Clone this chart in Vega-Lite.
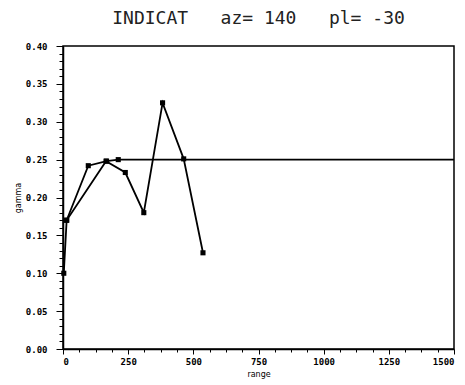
{
  "$schema": "https://vega.github.io/schema/vega-lite/v6.json",
  "autosize": "none",
  "padding": {"left": 63, "top": 46, "right": 11, "bottom": 36},
  "width": 391,
  "height": 303,
  "background": "white",
  "title": {
    "text": "INDICAT\u00a0\u00a0\u00a0az=\u00a0140\u00a0\u00a0\u00a0pl=\u00a0-30",
    "font": "DejaVu Sans Mono",
    "fontSize": 18,
    "fontWeight": "normal",
    "color": "#222222",
    "anchor": "middle",
    "offset": 14
  },
  "data": {
    "values": [
      {"series": "experimental", "range": 3, "gamma": 0.10},
      {"series": "experimental", "range": 14, "gamma": 0.17},
      {"series": "experimental", "range": 165, "gamma": 0.248},
      {"series": "experimental", "range": 239, "gamma": 0.233},
      {"series": "experimental", "range": 310, "gamma": 0.18},
      {"series": "experimental", "range": 382, "gamma": 0.325},
      {"series": "experimental", "range": 463, "gamma": 0.251},
      {"series": "experimental", "range": 537, "gamma": 0.127},
      {"series": "model", "range": 14, "gamma": 0.17},
      {"series": "model", "range": 97, "gamma": 0.242},
      {"series": "model", "range": 167, "gamma": 0.248},
      {"series": "model", "range": 212, "gamma": 0.25},
      {"series": "model", "range": 1500, "gamma": 0.25}
    ]
  },
  "encoding": {
    "x": {
      "field": "range",
      "type": "quantitative",
      "scale": {"domain": [0, 1500], "nice": false},
      "axis": {
        "title": "range",
        "values": [0, 62.5, 125, 187.5, 250, 312.5, 375, 437.5, 500, 562.5, 625, 687.5, 750, 812.5, 875, 937.5, 1000, 1062.5, 1125, 1187.5, 1250, 1312.5, 1375, 1437.5, 1500],
        "labelExpr": "datum.value % 250 === 0 ? format(datum.value, 'd') : ''",
        "tickSize": {"condition": {"test": "datum.value % 250 === 0", "value": 5}, "value": 3},
        "labelOverlap": false,
        "labelPadding": 3,
        "titlePadding": 4,
        "grid": false
      }
    },
    "y": {
      "field": "gamma",
      "type": "quantitative",
      "scale": {"domain": [0, 0.4], "nice": false},
      "axis": {
        "title": "gamma",
        "values": [0, 0.01, 0.02, 0.03, 0.04, 0.05, 0.06, 0.07, 0.08, 0.09, 0.10, 0.11, 0.12, 0.13, 0.14, 0.15, 0.16, 0.17, 0.18, 0.19, 0.20, 0.21, 0.22, 0.23, 0.24, 0.25, 0.26, 0.27, 0.28, 0.29, 0.30, 0.31, 0.32, 0.33, 0.34, 0.35, 0.36, 0.37, 0.38, 0.39, 0.40],
        "labelExpr": "abs(datum.value * 20 - round(datum.value * 20)) < 0.000001 ? format(datum.value, '.2f') : ''",
        "tickSize": {"condition": {"test": "abs(datum.value * 20 - round(datum.value * 20)) < 0.000001", "value": 7}, "value": 4},
        "labelOverlap": false,
        "labelPadding": 9,
        "titlePadding": 3,
        "grid": false
      }
    }
  },
  "layer": [
    {
      "mark": {"type": "line", "color": "black", "strokeWidth": 1.8},
      "encoding": {"detail": {"field": "series"}}
    },
    {
      "transform": [{"filter": "datum.range < 1500"}],
      "mark": {"type": "point", "shape": "square", "filled": true, "color": "black", "size": 26, "opacity": 1}
    }
  ],
  "config": {
    "view": {"stroke": "black", "strokeWidth": 1.5},
    "axis": {
      "domainColor": "black",
      "domainWidth": 1.5,
      "tickColor": "black",
      "tickWidth": 1,
      "labelFont": "DejaVu Sans Mono",
      "labelFontSize": 9,
      "labelFontWeight": "bold",
      "labelColor": "black",
      "titleFont": "DejaVu Sans",
      "titleFontSize": 8,
      "titleFontWeight": "normal",
      "titleColor": "black"
    }
  }
}
